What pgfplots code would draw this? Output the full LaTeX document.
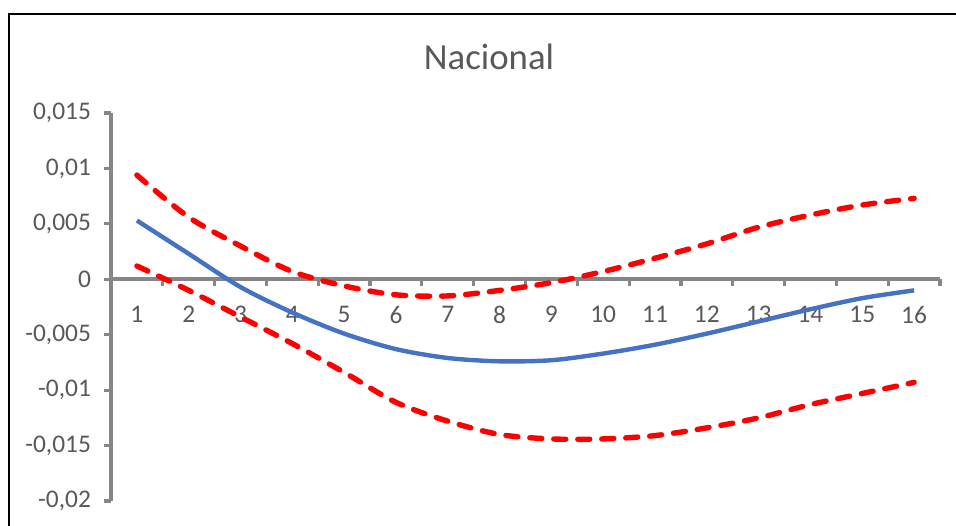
\documentclass[border=0pt]{standalone}
\usepackage{pgfplots}
\pgfplotsset{compat=1.18}
\usepackage{fontspec}
\setmainfont{Carlito}
\definecolor{txt}{HTML}{595959}
\definecolor{axg}{HTML}{868686}
\definecolor{bl}{HTML}{4472C4}
\definecolor{rd}{HTML}{FF0000}
\begin{document}
\begin{tikzpicture}
\useasboundingbox (0,0) rectangle (478pt,262.5pt);
\draw[black, line width=1pt] (4.5pt,-5pt) -- (4.5pt,255.5pt) -- (490pt,255.5pt);
\node[txt, font=\fontsize{18.4}{21}\selectfont] at (244.5pt,234pt) {Nacional};
\begin{axis}[
  at={(55.5pt,12pt)}, anchor=south west,
  scale only axis, width=414.5pt, height=194pt,
  xmin=0.5, xmax=16.5, ymin=-0.02, ymax=0.015,
  axis x line=middle, axis y line=left,
  axis line style={axg, line width=2.1pt, -},
  xtick={1,...,16},
  minor xtick={0.5,1.5,...,16.5},
  ytick={-0.02,-0.015,...,0.015},
  yticklabels={-0{,}02,-0{,}015,-0{,}01,-0{,}005,0,0{,}005,0{,}01,0{,}015},
  scaled y ticks=false,
  /pgf/number format/assume math mode=true,
  major tick length=3.5pt, minor tick length=3.5pt,
  tick align=outside,
  x tick style={draw=none},
  minor x tick style={draw=axg, line width=1.6pt},
  y tick style={draw=axg, line width=1.6pt},
  tick label style={txt, font=\fontsize{12.7}{14}\selectfont},
  xticklabel style={yshift=-6.5pt},
  yticklabel style={xshift=-3pt},
  clip=false,
]
\addplot[bl, line width=2.2pt, smooth] coordinates {
(1,0.0053) (2,0.0023) (3,-0.0007) (4,-0.0030) (5,-0.0049) (6,-0.0063) (7,-0.0071) (8,-0.0074)
(9,-0.0073) (10,-0.0067) (11,-0.0059) (12,-0.0049) (13,-0.0038) (14,-0.0027) (15,-0.0017) (16,-0.0010)};
\addplot[rd, line width=2.7pt, smooth, line cap=round, dash pattern=on 6pt off 6pt] coordinates {
(1,0.0094) (2,0.0056) (3,0.0030) (4,0.0007) (5,-0.0006) (6,-0.0014) (7,-0.0015) (8,-0.0010)
(9,-0.0003) (10,0.0007) (11,0.0019) (12,0.0032) (13,0.0047) (14,0.0058) (15,0.0067) (16,0.0073)};
\addplot[rd, line width=2.7pt, smooth, line cap=round, dash pattern=on 6pt off 6pt] coordinates {
(1,0.0012) (2,-0.0010) (3,-0.0034) (4,-0.0058) (5,-0.0084) (6,-0.0111) (7,-0.0128) (8,-0.0140)
(9,-0.0144) (10,-0.0144) (11,-0.0141) (12,-0.0134) (13,-0.0125) (14,-0.0113) (15,-0.0103) (16,-0.0093)};
\end{axis}
\end{tikzpicture}
\end{document}
